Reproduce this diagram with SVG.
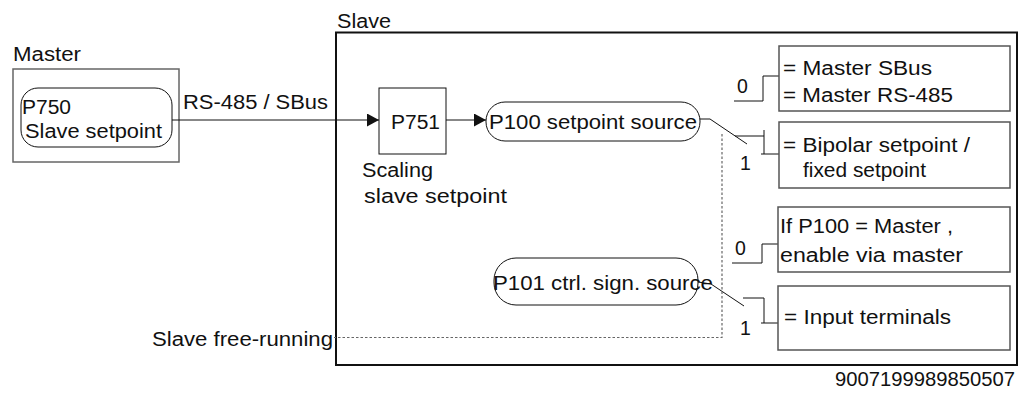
<svg xmlns="http://www.w3.org/2000/svg" width="1023" height="394" viewBox="0 0 1023 394">
<defs>
<style>
text{font-family:"Liberation Sans",Arial,Helvetica,sans-serif;font-size:19.5px;fill:#111}
.ln{fill:none;stroke:#111;stroke-width:1}
.gbox{fill:#fff;stroke:#555;stroke-width:1.5}
.pill{fill:#fff;stroke:#111;stroke-width:1}
.dot{fill:none;stroke:#666;stroke-width:1.2;stroke-dasharray:2.5 2}
</style>
<marker id="ah" viewBox="0 0 12 13" refX="12" refY="6.5" markerWidth="12" markerHeight="13" markerUnits="userSpaceOnUse" orient="auto">
<path d="M0 0 L12 6.5 L0 13 Z" fill="#111"/>
</marker>
</defs>
<rect width="1023" height="394" fill="#fff"/>

<g id="slave">
<text x="337" y="28" textLength="54" lengthAdjust="spacingAndGlyphs">Slave</text>
<rect x="336" y="32.5" width="681" height="332.5" fill="none" stroke="#111" stroke-width="2"/>
</g>

<g id="master">
<text x="13" y="61" textLength="68" lengthAdjust="spacingAndGlyphs">Master</text>
<rect x="13" y="69" width="166" height="93" fill="#fff" stroke="#666" stroke-width="1.5"/>
</g>

<g id="p750">
<rect class="pill" x="21" y="88" width="151" height="59" rx="17" ry="17"/>
<text x="22" y="114" textLength="49" lengthAdjust="spacingAndGlyphs">P750</text>
<text x="25" y="138" textLength="137" lengthAdjust="spacingAndGlyphs">Slave setpoint</text>
</g>

<g id="connectors">
<line class="ln" x1="172" y1="120" x2="379" y2="120" marker-end="url(#ah)"/>
<line class="ln" x1="446" y1="120" x2="486" y2="120" marker-end="url(#ah)"/>
<polyline class="ln" points="700,119 710,119 747,144"/>
<polyline class="ln" points="734,101 763,101 763,76 779,76"/>
<polyline class="ln" points="735,136 764,136"/>
<polyline class="ln" points="764,130 764,154"/>
<polyline class="ln" points="761,154 779,154"/>
<polyline class="ln" points="698,282 711,284 744,306"/>
<polyline class="ln" points="732,263 762,263 762,244 778,244"/>
<polyline class="ln" points="743,298 764,298 764,323"/>
<polyline class="ln" points="761,323 778,323"/>
<polyline class="dot" points="722,134 722,337.5 334,337.5"/>
</g>

<g id="rs485-label">
<text x="183" y="109" textLength="145" lengthAdjust="spacingAndGlyphs">RS-485 / SBus</text>
</g>

<g id="p751">
<rect x="379" y="88" width="67" height="66" fill="#fff" stroke="#111" stroke-width="1"/>
<text x="391" y="129" textLength="49" lengthAdjust="spacingAndGlyphs">P751</text>
<text x="362" y="177" textLength="71" lengthAdjust="spacingAndGlyphs">Scaling</text>
<text x="364" y="203" textLength="143" lengthAdjust="spacingAndGlyphs">slave setpoint</text>
</g>

<g id="p100">
<rect class="pill" x="486" y="102" width="214" height="39" rx="19" ry="19"/>
<text x="489" y="129" textLength="208" lengthAdjust="spacingAndGlyphs">P100 setpoint source</text>
</g>

<g id="p101">
<rect class="pill" x="494" y="258" width="204" height="47" rx="22" ry="22"/>
<text x="493" y="290" textLength="220" lengthAdjust="spacingAndGlyphs">P101 ctrl. sign. source</text>
</g>

<g id="switch-labels">
<text x="737" y="93">0</text>
<text x="740" y="170">1</text>
<text x="735" y="255">0</text>
<text x="740" y="335">1</text>
</g>

<g id="box-master-sbus">
<rect class="gbox" x="779" y="46" width="231" height="65"/>
<text x="783" y="75" textLength="149" lengthAdjust="spacingAndGlyphs">= Master SBus</text>
<text x="783" y="101.5" textLength="170" lengthAdjust="spacingAndGlyphs">= Master RS-485</text>
</g>

<g id="box-bipolar">
<rect class="gbox" x="779" y="122" width="231" height="66"/>
<text x="783" y="151.5" textLength="187" lengthAdjust="spacingAndGlyphs">= Bipolar setpoint /</text>
<text x="803" y="176.5" textLength="123" lengthAdjust="spacingAndGlyphs">fixed setpoint</text>
</g>

<g id="box-if-master">
<rect class="gbox" x="778" y="207" width="232" height="65"/>
<text x="780" y="233" textLength="173" lengthAdjust="spacingAndGlyphs">If P100 = Master ,</text>
<text x="780" y="261.5" textLength="183" lengthAdjust="spacingAndGlyphs">enable via master</text>
</g>

<g id="box-input">
<rect class="gbox" x="778" y="286" width="232" height="64"/>
<text x="784" y="324" textLength="167" lengthAdjust="spacingAndGlyphs">= Input terminals</text>
</g>

<g id="free-running">
<text x="152" y="346" textLength="181" lengthAdjust="spacingAndGlyphs">Slave free-running</text>
</g>

<g id="figure-id">
<text x="835" y="386" textLength="180" lengthAdjust="spacingAndGlyphs">9007199989850507</text>
</g>
</svg>
